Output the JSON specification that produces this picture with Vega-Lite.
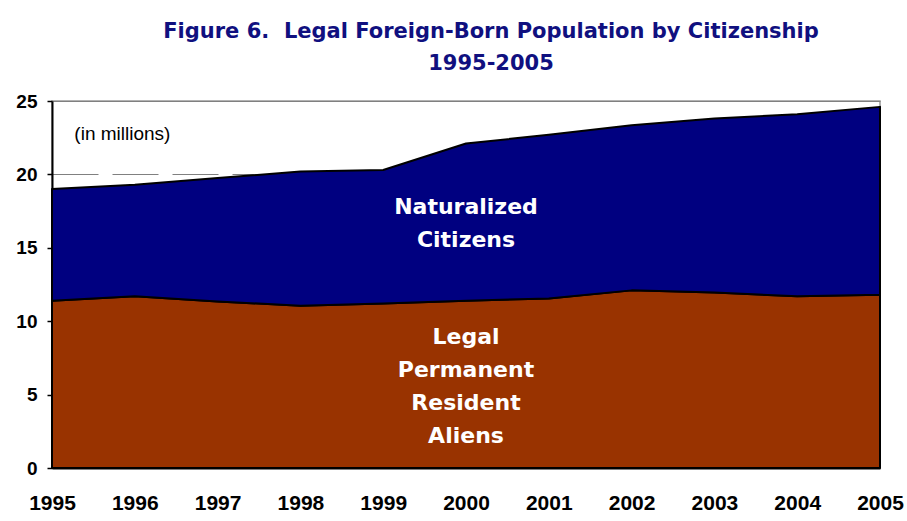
{
  "$schema": "https://vega.github.io/schema/vega-lite/v6.json",
  "width": 828,
  "height": 367,
  "autosize": "none",
  "padding": {"left": 52, "top": 101, "right": 27, "bottom": 53},
  "background": "white",
  "config": {
    "view": {"stroke": "#999999", "strokeWidth": 1.5},
    "font": "Liberation Sans"
  },
  "title": {
    "text": ["Figure 6.\u00a0 Legal Foreign-Born Population by Citizenship", "1995-2005"],
    "anchor": "middle",
    "frame": "group",
    "dx": 25,
    "offset": 18,
    "font": "DejaVu Sans",
    "fontSize": 21,
    "fontWeight": "bold",
    "color": "#10107f",
    "lineHeight": 32
  },
  "datasets": {
    "pop": [
      {"year": 1995, "series": "Legal Permanent Resident Aliens", "ord": 1, "value": 11.4},
      {"year": 1996, "series": "Legal Permanent Resident Aliens", "ord": 1, "value": 11.7},
      {"year": 1997, "series": "Legal Permanent Resident Aliens", "ord": 1, "value": 11.35},
      {"year": 1998, "series": "Legal Permanent Resident Aliens", "ord": 1, "value": 11.05},
      {"year": 1999, "series": "Legal Permanent Resident Aliens", "ord": 1, "value": 11.2},
      {"year": 2000, "series": "Legal Permanent Resident Aliens", "ord": 1, "value": 11.4},
      {"year": 2001, "series": "Legal Permanent Resident Aliens", "ord": 1, "value": 11.55},
      {"year": 2002, "series": "Legal Permanent Resident Aliens", "ord": 1, "value": 12.1},
      {"year": 2003, "series": "Legal Permanent Resident Aliens", "ord": 1, "value": 11.95},
      {"year": 2004, "series": "Legal Permanent Resident Aliens", "ord": 1, "value": 11.7},
      {"year": 2005, "series": "Legal Permanent Resident Aliens", "ord": 1, "value": 11.8},
      {"year": 1995, "series": "Naturalized Citizens", "ord": 2, "value": 7.6},
      {"year": 1996, "series": "Naturalized Citizens", "ord": 2, "value": 7.6},
      {"year": 1997, "series": "Naturalized Citizens", "ord": 2, "value": 8.4},
      {"year": 1998, "series": "Naturalized Citizens", "ord": 2, "value": 9.15},
      {"year": 1999, "series": "Naturalized Citizens", "ord": 2, "value": 9.1},
      {"year": 2000, "series": "Naturalized Citizens", "ord": 2, "value": 10.7},
      {"year": 2001, "series": "Naturalized Citizens", "ord": 2, "value": 11.15},
      {"year": 2002, "series": "Naturalized Citizens", "ord": 2, "value": 11.25},
      {"year": 2003, "series": "Naturalized Citizens", "ord": 2, "value": 11.85},
      {"year": 2004, "series": "Naturalized Citizens", "ord": 2, "value": 12.4},
      {"year": 2005, "series": "Naturalized Citizens", "ord": 2, "value": 12.8}
    ],
    "labels": [
      {"year": 2000, "value": 17.8, "label": "Naturalized|Citizens"},
      {"year": 2000, "value": 8.9, "label": "Legal|Permanent|Resident|Aliens"}
    ],
    "note": [
      {"year": 1995.27, "value": 22.75, "label": "(in millions)"}
    ]
  },
  "layer": [
    {
      "data": {"name": "pop"},
      "mark": {"type": "area", "stroke": "black", "strokeWidth": 2, "strokeJoin": "round", "opacity": 1, "fillOpacity": 1},
      "encoding": {
        "x": {
          "field": "year", "type": "quantitative",
          "scale": {"domain": [1995, 2005], "nice": false, "zero": false},
          "axis": {
            "values": [1995, 1996, 1997, 1998, 1999, 2000, 2001, 2002, 2003, 2004, 2005],
            "format": "d", "title": null, "grid": false, "ticks": false,
            "domainColor": "black", "domainWidth": 2,
            "labelFont": "Liberation Sans", "labelFontSize": 21, "labelFontWeight": "bold",
            "labelColor": "black", "labelPadding": 24, "labelFlush": false, "labelOverlap": false
          }
        },
        "y": {
          "field": "value", "type": "quantitative", "stack": "zero",
          "scale": {"domain": [0, 25], "nice": false},
          "axis": {
            "values": [0, 5, 10, 15, 20, 25],
            "title": null, "grid": true, "gridColor": "#808080",
            "gridDash": {"condition": {"test": "datum.value >= 25", "value": []}, "value": [46, 14]},
            "gridWidth": 1,
            "ticks": true, "tickSize": 5, "tickColor": "black", "tickWidth": 1.5,
            "domainColor": "black", "domainWidth": 2,
            "labelFont": "Liberation Sans", "labelFontSize": 19, "labelFontWeight": "bold",
            "labelColor": "black", "labelPadding": 10
          }
        },
        "color": {
          "field": "series", "type": "nominal",
          "scale": {"domain": ["Legal Permanent Resident Aliens", "Naturalized Citizens"], "range": ["#993300", "#000080"]},
          "legend": null
        },
        "order": {"field": "ord", "type": "quantitative"}
      }
    },
    {
      "data": {"name": "labels"},
      "mark": {"type": "text", "font": "DejaVu Sans", "fontSize": 22, "fontWeight": "bold", "color": "white", "align": "center", "baseline": "middle", "lineBreak": "|", "lineHeight": 33},
      "encoding": {
        "x": {"field": "year", "type": "quantitative"},
        "y": {"field": "value", "type": "quantitative"},
        "text": {"field": "label"}
      }
    },
    {
      "data": {"name": "note"},
      "mark": {"type": "text", "font": "Liberation Sans", "fontSize": 19, "color": "black", "align": "left", "baseline": "middle"},
      "encoding": {
        "x": {"field": "year", "type": "quantitative"},
        "y": {"field": "value", "type": "quantitative"},
        "text": {"field": "label"}
      }
    }
  ]
}
